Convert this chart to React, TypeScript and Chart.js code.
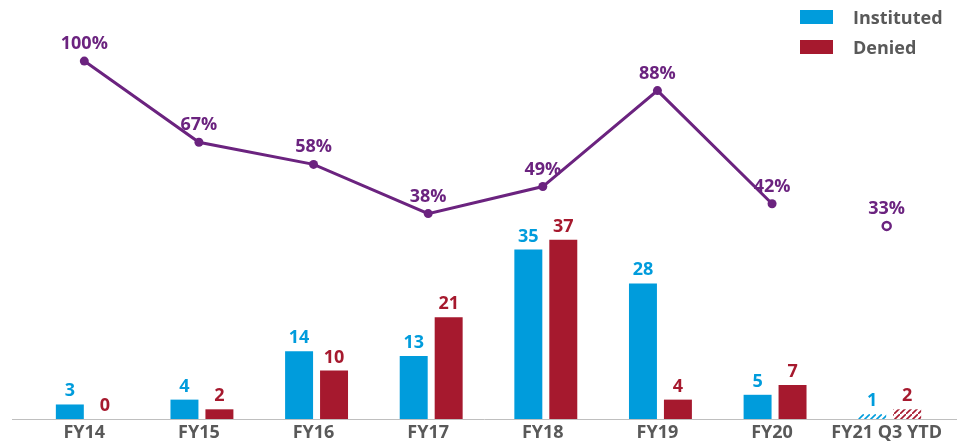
import React, { useEffect, useRef } from "react";
import { Chart, registerables } from "chart.js";

Chart.register(...registerables);

const categories = ["FY14", "FY15", "FY16", "FY17", "FY18", "FY19", "FY20", "FY21 Q3 YTD"];
const instituted = [3, 4, 14, 13, 35, 28, 5, 1];
const denied = [0, 2, 10, 21, 37, 4, 7, 2];
const institutionRate = [100, 67, 58, 38, 49, 88, 42, null];
const ytdRate = [null, null, null, null, null, null, null, 33];

const BLUE = "#009cdc";
const RED = "#a6192e";
const PURPLE = "#6b237f";
const GRAY = "#595959";
const FONT = "'Open Sans', 'Noto Sans', sans-serif";

function hatch(color: string): CanvasPattern | string {
  const c = document.createElement("canvas");
  c.width = 6;
  c.height = 6;
  const ctx = c.getContext("2d");
  if (!ctx) return color;
  ctx.strokeStyle = color;
  ctx.lineWidth = 1.6;
  ctx.beginPath();
  ctx.moveTo(-1, 7);
  ctx.lineTo(7, -1);
  ctx.stroke();
  return ctx.createPattern(c, "repeat") || color;
}

const barShiftPlugin = {
  id: "barShift",
  afterDatasetsUpdate(chart: any) {
    chart.data.datasets.forEach((ds: any, di: number) => {
      if (ds.type !== "bar") return;
      chart.getDatasetMeta(di).data.forEach((el: any) => {
        el.x += 3;
      });
    });
  },
};

const labelPlugin = {
  id: "valueLabels",
  afterDatasetsDraw(chart: any) {
    const ctx = chart.ctx;
    ctx.save();
    ctx.textAlign = "center";
    ctx.textBaseline = "alphabetic";
    chart.data.datasets.forEach((ds: any, di: number) => {
      const meta = chart.getDatasetMeta(di);
      meta.data.forEach((el: any, i: number) => {
        const v = ds.data[i];
        if (v === null || v === undefined) return;
        if (ds.type === "line") {
          ctx.font = `bold 18px ${FONT}`;
          ctx.fillStyle = PURPLE;
          ctx.fillText(`${v}%`, el.x, el.y - 12);
        } else {
          ctx.font = `bold 18px ${FONT}`;
          ctx.fillStyle = ds.labelColor;
          ctx.fillText(String(v), el.x, el.y - 8);
        }
      });
    });
    const y = chart.chartArea.bottom + 0.5;
    ctx.strokeStyle = "#bfbfbf";
    ctx.lineWidth = 1;
    ctx.beginPath();
    ctx.moveTo(12, y);
    ctx.lineTo(chart.width, y);
    ctx.stroke();
    ctx.restore();
  },
};

export default function App() {
  const ref = useRef<HTMLCanvasElement | null>(null);

  useEffect(() => {
    document.body.style.margin = "0";
    if (!ref.current) return;
    const instColors = instituted.map((_, i) => (i === instituted.length - 1 ? hatch(BLUE) : BLUE));
    const denColors = denied.map((_, i) => (i === denied.length - 1 ? hatch(RED) : RED));
    const chart = new Chart(ref.current, {
      type: "bar",
      data: {
        labels: categories,
        datasets: [
          {
            type: "line",
            label: "Rate",
            data: institutionRate,
            yAxisID: "yRate",
            borderColor: PURPLE,
            backgroundColor: PURPLE,
            borderWidth: 3,
            pointRadius: 4.5,
            pointBackgroundColor: PURPLE,
            pointBorderWidth: 0,
            spanGaps: false,
          } as any,
          {
            type: "line",
            label: "YTD Rate",
            data: ytdRate,
            yAxisID: "yRate",
            showLine: false,
            borderColor: PURPLE,
            pointRadius: 4,
            pointBorderWidth: 2.5,
            pointBackgroundColor: "#ffffff",
            pointBorderColor: PURPLE,
          } as any,
          {
            type: "bar",
            label: "Instituted",
            data: instituted,
            yAxisID: "y",
            backgroundColor: instColors as any,
            labelColor: BLUE,
            barPercentage: 0.8,
            categoryPercentage: 0.61,
          } as any,
          {
            type: "bar",
            label: "Denied",
            data: denied,
            yAxisID: "y",
            backgroundColor: denColors as any,
            labelColor: RED,
            barPercentage: 0.8,
            categoryPercentage: 0.61,
          } as any,
        ],
      },
      options: {
        responsive: false,
        animation: false,
        layout: { padding: { left: 27, right: 13, top: 20, bottom: 0 } },
        plugins: {
          legend: { display: false },
          tooltip: { enabled: false },
        },
        scales: {
          x: {
            grid: { display: false, drawTicks: false },
            border: { display: false },
            ticks: {
              color: GRAY,
              font: { family: FONT, size: 18, weight: "bold" },
              padding: 3,
              maxRotation: 0,
              autoSkip: false,
            },
            afterFit: (s: any) => {
              s.height = 26;
            },
          },
          y: {
            display: false,
            min: 0,
            max: 82.4,
          },
          yRate: {
            display: false,
            min: -45.5,
            max: 116.7,
          },
        },
      },
      plugins: [barShiftPlugin, labelPlugin],
    });
    return () => chart.destroy();
  }, []);

  const legendText: React.CSSProperties = {
    position: "absolute",
    left: 853,
    fontFamily: FONT,
    fontWeight: 700,
    fontSize: 18,
    color: GRAY,
    lineHeight: "20px",
  };

  return (
    <div style={{ position: "relative", width: 957, height: 445, background: "#fff" }}>
      <canvas ref={ref} width={957} height={445} style={{ display: "block" }} />
      <div style={{ position: "absolute", left: 800, top: 10, width: 33, height: 14, background: BLUE }} />
      <div style={{ ...legendText, top: 7 }}>Instituted</div>
      <div style={{ position: "absolute", left: 800, top: 40, width: 33, height: 14, background: RED }} />
      <div style={{ ...legendText, top: 37 }}>Denied</div>
    </div>
  );
}
